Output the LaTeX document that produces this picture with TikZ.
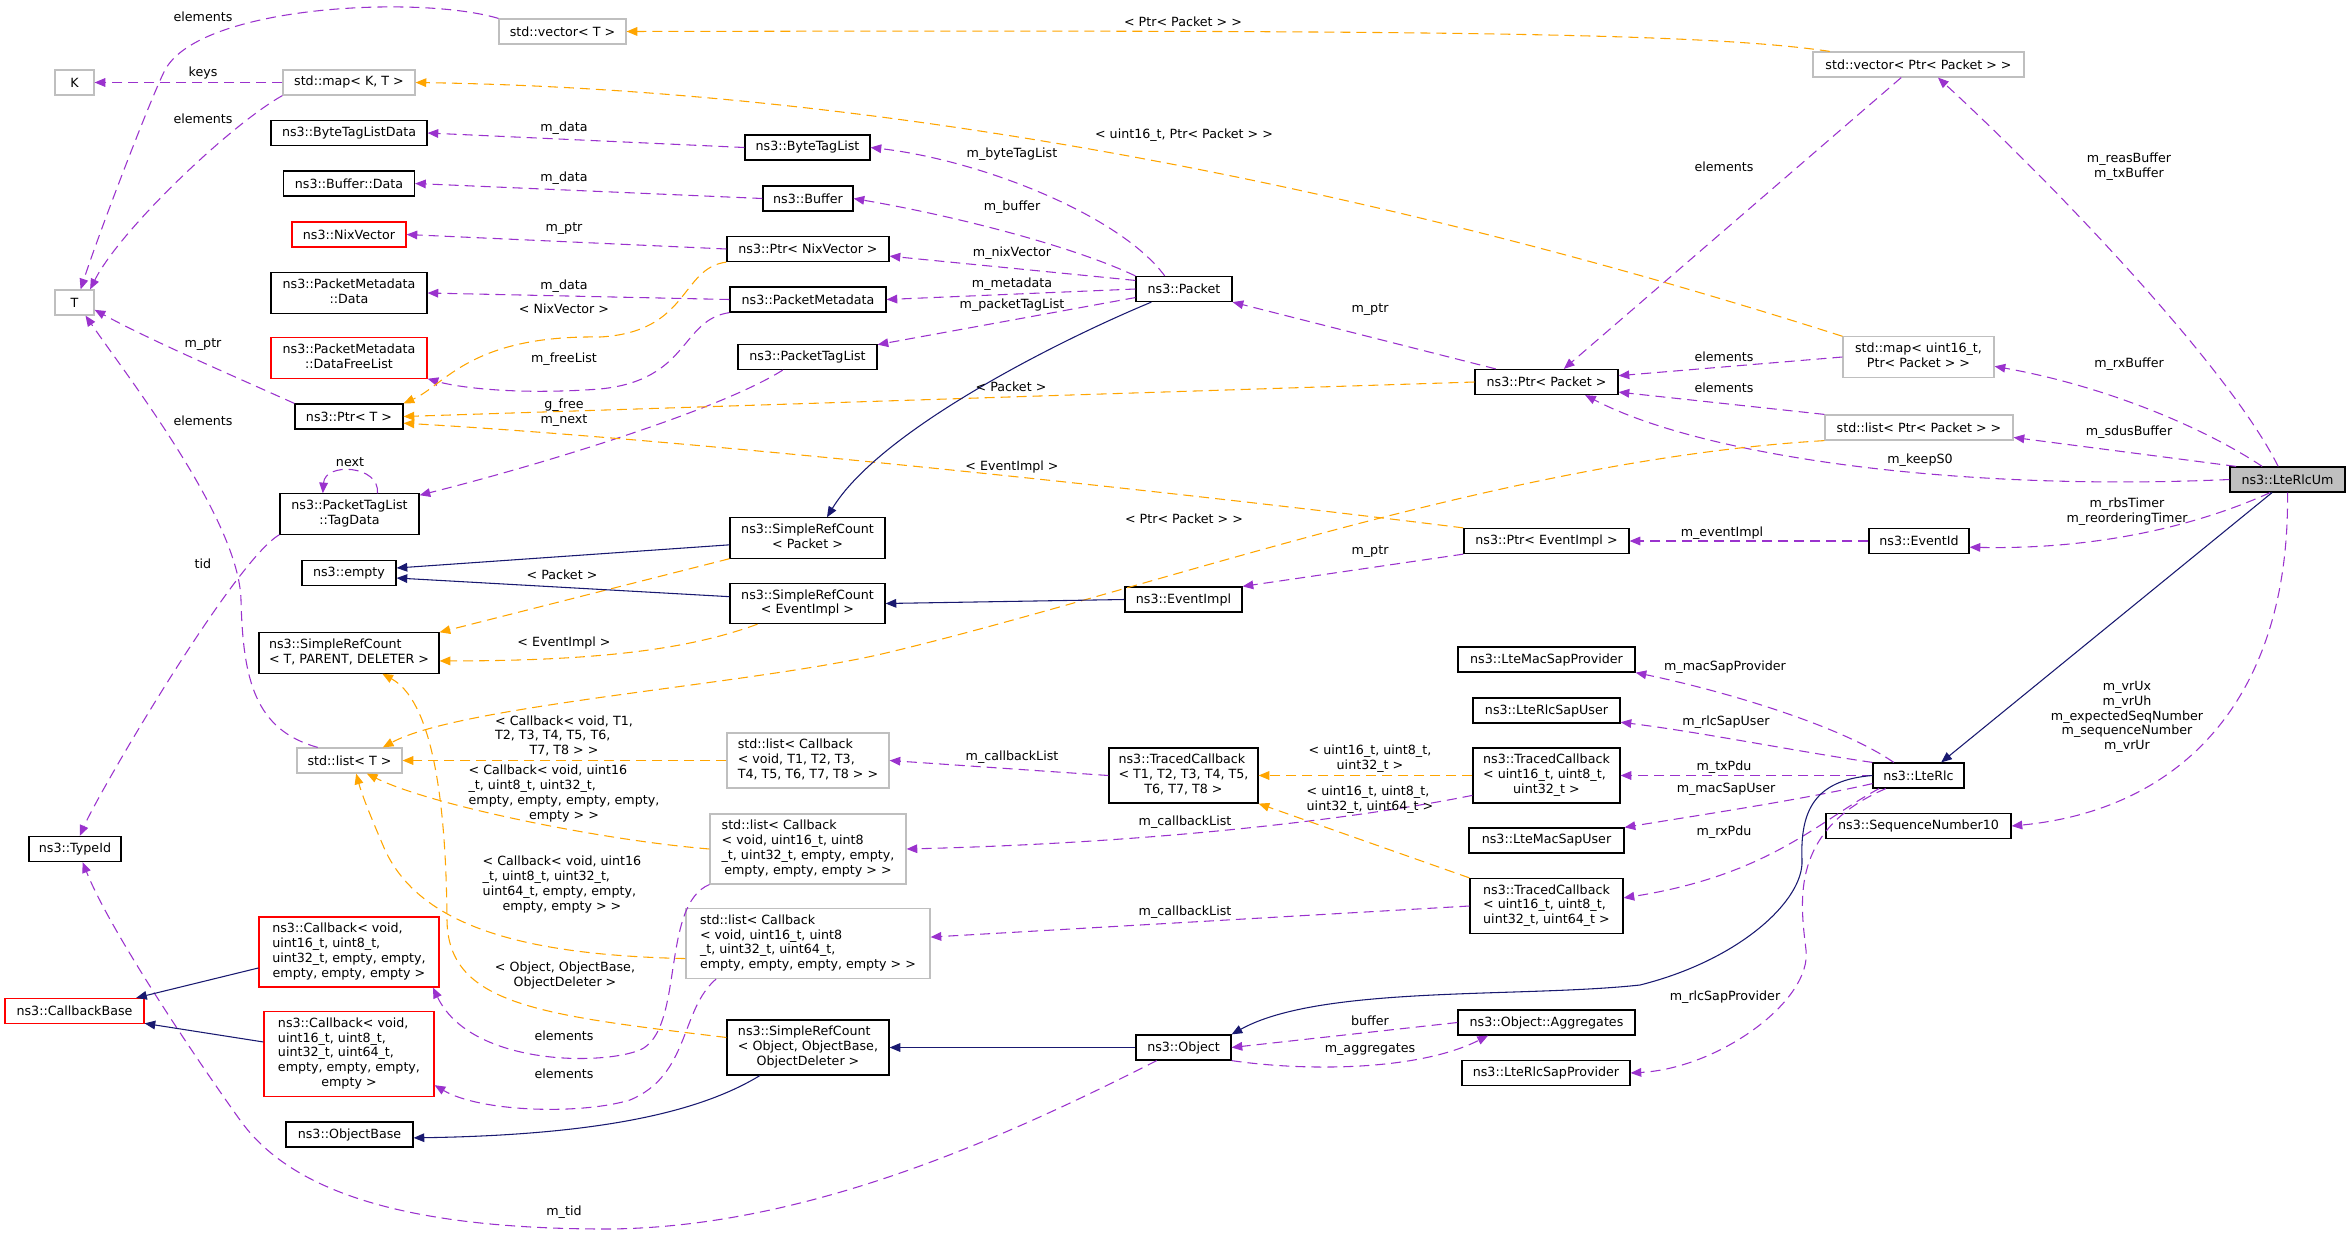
\documentclass[tikz,border=0pt]{standalone}
\usepackage{fontspec}
\setmainfont{DejaVu Sans}
\usetikzlibrary{arrows.meta}
\definecolor{usePurple}{HTML}{9A32CD}
\definecolor{tmplOrange}{HTML}{FFA500}
\definecolor{inhNavy}{HTML}{191970}
\definecolor{undocGray}{HTML}{BFBFBF}
\definecolor{truncRed}{HTML}{FF0000}
\newcommand{\dlab}[2]{\begin{tabular}{@{}l@{}}#1\\\multicolumn{1}{@{}c@{}}{#2}\end{tabular}}

\begin{document}
\begin{tikzpicture}[
    x=0.75pt, y=-0.75pt,
    cls/.style={rectangle, draw=black, line width=0.9pt, fill=white,
        minimum height=18.75pt, inner xsep=3pt, inner ysep=4pt,
        font=\fontsize{9.5}{11.1}\selectfont},
    undoc/.style={cls, draw=undocGray},
    trunc/.style={cls, draw=truncRed},
    bw/.style={minimum width=#1*0.75pt},
    lbl/.style={inner sep=0pt, align=center, font=\fontsize{9.5}{11.1}\selectfont},
    usage/.style={-{Triangle[length=8pt,width=6.5pt]}, usePurple, line width=0.8pt,
        dash pattern=on 7.5pt off 4.5pt},
    tmpl/.style={usage, tmplOrange},
    inherit/.style={-{Triangle[length=8pt,width=6.5pt]}, inhNavy, line width=0.8pt}
]
\useasboundingbox (0,0) rectangle (2349,1235);

% classes
\node[undoc, bw=39] (K) at (74.5,82.5) {K};
\node[undoc, bw=39] (T) at (74.5,302.5) {T};
\node[cls, bw=92] (typeid) at (75,849) {ns3::TypeId};
\node[trunc, bw=139] (cbbase) at (74.5,1011) {ns3::CallbackBase};

\node[undoc, bw=127] (vecT) at (562.5,31.5) {std::vector< T >};
\node[undoc, bw=132] (mapKT) at (349,82.5) {std::map< K, T >};
\node[cls, bw=156] (btld) at (349,133) {ns3::ByteTagListData};
\node[cls, bw=131] (bufdata) at (349,183.5) {ns3::Buffer::Data};
\node[trunc, bw=114] (nixvec) at (349,234.5) {ns3::NixVector};
\node[cls, bw=156] (pmdata) at (349,293) {\dlab{ns3::PacketMetadata}{::Data}};
\node[trunc, bw=156] (pmfree) at (349,358) {\dlab{ns3::PacketMetadata}{::DataFreeList}};
\node[cls, bw=108] (ptrT) at (349,416.5) {ns3::Ptr< T >};
\node[cls, bw=139] (tagdata) at (349.5,514) {\dlab{ns3::PacketTagList}{::TagData}};
\node[cls, bw=94] (empty) at (349,573) {ns3::empty};
\node[cls, bw=180] (srcT) at (349,653) {\dlab{ns3::SimpleRefCount}{< T, PARENT, DELETER >}};
\node[undoc, bw=105] (listT) at (349.5,760.5) {std::list< T >};
\node[trunc, bw=180] (cbu32) at (349,952) {\dlab{ns3::Callback< void,\\uint16\_t, uint8\_t,\\uint32\_t, empty, empty,}{empty, empty, empty >}};
\node[trunc, bw=170] (cbu64) at (349,1054) {\dlab{ns3::Callback< void,\\uint16\_t, uint8\_t,\\uint32\_t, uint64\_t,\\empty, empty, empty,}{empty >}};
\node[cls, bw=127] (objbase) at (349.5,1134.5) {ns3::ObjectBase};

\node[cls, bw=125] (btl) at (807.5,147.5) {ns3::ByteTagList};
\node[cls, bw=90] (buf) at (808,198.5) {ns3::Buffer};
\node[cls, bw=162] (ptrnix) at (808,249) {ns3::Ptr< NixVector >};
\node[cls, bw=156] (pm) at (808,299.5) {ns3::PacketMetadata};
\node[cls, bw=139] (ptl) at (807.5,357) {ns3::PacketTagList};
\node[cls, bw=155] (srcpkt) at (807.5,538) {\dlab{ns3::SimpleRefCount}{< Packet >}};
\node[cls, bw=155] (srcev) at (807.5,603.5) {\dlab{ns3::SimpleRefCount}{< EventImpl >}};
\node[undoc, bw=162] (listcbT) at (808,760.5) {\dlab{std::list< Callback\\< void, T1, T2, T3,}{T4, T5, T6, T7, T8 > >}};
\node[undoc, bw=196] (listcb32) at (808,849) {\dlab{std::list< Callback\\< void, uint16\_t, uint8\\\_t, uint32\_t, empty, empty,}{empty, empty, empty > >}};
\node[undoc, bw=244] (listcb64) at (808,943.5) {\dlab{std::list< Callback\\< void, uint16\_t, uint8\\\_t, uint32\_t, uint64\_t,}{empty, empty, empty, empty > >}};
\node[cls, bw=162] (srcobj) at (808,1047.5) {\dlab{ns3::SimpleRefCount\\< Object, ObjectBase,}{ObjectDeleter >}};

\node[cls, bw=96] (pkt) at (1184,289) {ns3::Packet};
\node[cls, bw=117] (evimpl) at (1183.5,599.5) {ns3::EventImpl};
\node[cls, bw=149] (tcT) at (1183.5,775.5) {\dlab{ns3::TracedCallback\\< T1, T2, T3, T4, T5,}{T6, T7, T8 >}};
\node[cls, bw=95] (obj) at (1183.5,1047.5) {ns3::Object};

\node[cls, bw=143] (ptrpkt) at (1546.5,382) {ns3::Ptr< Packet >};
\node[cls, bw=165] (ptrev) at (1546.5,541) {ns3::Ptr< EventImpl >};
\node[cls, bw=177] (macprov) at (1546.5,659.5) {ns3::LteMacSapProvider};
\node[cls, bw=147] (rlcuser) at (1546.5,710.5) {ns3::LteRlcSapUser};
\node[cls, bw=147] (tc32) at (1546.5,775.5) {\dlab{ns3::TracedCallback\\< uint16\_t, uint8\_t,}{uint32\_t >}};
\node[cls, bw=155] (macuser) at (1546.5,840.5) {ns3::LteMacSapUser};
\node[cls, bw=153] (tc64) at (1546.5,906) {\dlab{ns3::TracedCallback\\< uint16\_t, uint8\_t,}{uint32\_t, uint64\_t >}};
\node[cls, bw=177] (aggr) at (1546.5,1022.5) {ns3::Object::Aggregates};
\node[cls, bw=168] (rlcprov) at (1546,1073) {ns3::LteRlcSapProvider};

\node[undoc, bw=211] (vecpp) at (1918.5,64.5) {std::vector< Ptr< Packet > >};
\node[undoc, bw=151] (mappp) at (1918.5,357) {\dlab{std::map< uint16\_t,}{Ptr< Packet > >}};
\node[undoc, bw=188] (listpp) at (1919,427.5) {std::list< Ptr< Packet > >};
\node[cls, bw=100] (evid) at (1919,541) {ns3::EventId};
\node[cls, bw=91] (lterlc) at (1918.5,775.5) {ns3::LteRlc};
\node[cls, bw=185] (seqnum) at (1918.5,826) {ns3::SequenceNumber10};
\node[cls, bw=115, fill=undocGray] (lterlcum) at (2287.5,479.5) {ns3::LteRlcUm};

% usage relations
\draw[usage] (vecT.north west) .. controls (420,-5) and (200,5) .. (165,70) .. controls (152,95) and (100,230) .. (T.65);
\draw[usage] (mapKT.west) -- (K.east);
\draw[usage] (mapKT.south west) .. controls (230,125) and (120,230) .. (T.40);
\draw[usage] (btl.west) -- (btld.east);
\draw[usage] (buf.west) -- (bufdata.east);
\draw[usage] (ptrnix.west) -- (nixvec.east);
\draw[usage] (pm.west) -- (pmdata.east);
\draw[usage] (pm.south west) .. controls (680,320) and (690,380) .. (600,389) .. controls (520,395) and (460,388) .. (pmfree.south east);
\draw[usage] (ptrT.north west) .. controls (220,370) and (150,340) .. (T.-20);
\draw[usage] ([xshift=16pt]listT.north west) .. controls (255,730) and (243,680) .. (241,600) .. controls (239,520) and (130,380) .. (T.-50);
\draw[usage] ([xshift=34pt]ptl.south west) .. controls (720,410) and (540,465) .. (tagdata.15);
\draw[usage] ([xshift=21pt]tagdata.north) .. controls (380,465) and (325,462) .. ([xshift=-20pt]tagdata.north);
\draw[usage] (tagdata.south west) .. controls (235,560) and (100,790) .. (typeid.70);
\draw[usage] ([xshift=16pt]obj.south west) .. controls (1000,1140) and (800,1230) .. (600,1229) .. controls (400,1228) and (290,1190) .. (240,1120) .. controls (190,1050) and (110,930) .. (typeid.-60);
\draw[usage] (listcb32.south west) .. controls (660,905) and (685,1030) .. (640,1050) .. controls (600,1066) and (470,1065) .. ([xshift=-5pt]cbu32.south east);
\draw[usage] ([xshift=23pt]listcb64.south west) .. controls (680,1010) and (690,1075) .. (630,1100) .. controls (580,1115) and (480,1112) .. (cbu64.-20);
\draw[usage] (obj.south east) .. controls (1310,1072) and (1420,1070) .. ([xshift=23pt]aggr.south west);
\draw[usage] (aggr.west) -- (obj.east);
\draw[usage] (tcT.west) -- (listcbT.east);
\draw[usage] (tc32.-165) .. controls (1350,820) and (1150,843) .. (listcb32.east);
\draw[usage] (tc64.west) -- (listcb64.3);
\draw[usage] ([xshift=22pt]pkt.north west) .. controls (1120,215) and (980,160) .. (btl.east);
\draw[usage] (pkt.north west) .. controls (1070,245) and (950,215) .. (buf.east);
\draw[usage] (pkt.170) -- (ptrnix.-5);
\draw[usage] (pkt.west) -- (pm.east);
\draw[usage] (pkt.-170) -- (ptl.10);
\draw[usage] ([xshift=16pt]ptrpkt.north west) -- (pkt.south east);
\draw[usage] ([xshift=-13pt]vecpp.south) -- ([xshift=13pt]ptrpkt.north);
\draw[usage] (mappp.west) -- (ptrpkt.5);
\draw[usage] (listpp.north west) -- (ptrpkt.-8);
\draw[usage] ([xshift=-7pt]lterlcum.north) .. controls (2230,370) and (2060,190) .. ([xshift=14.6pt]vecpp.south);
\draw[usage] ([xshift=-19pt]lterlcum.north) .. controls (2200,425) and (2100,385) .. (mappp.-7);
\draw[usage] ([xshift=5pt]lterlcum.north west) -- (listpp.-6);
\draw[usage] (lterlcum.west) .. controls (1950,492) and (1700,455) .. ([xshift=29pt]ptrpkt.south);
\draw[usage] ([xshift=-13pt]lterlcum.south) .. controls (2210,520) and (2110,550) .. (evid.-7);
\draw[usage] (lterlcum.south) .. controls (2290,700) and (2180,810) .. (seqnum.east);
\draw[usage] (evid.west) -- (ptrev.east);
\draw[usage] (ptrev.south west) -- (evimpl.north east);
\draw[usage] ([xshift=16pt]lterlc.north west) .. controls (1840,725) and (1720,690) .. (macprov.south east);
\draw[usage] (lterlc.north west) .. controls (1800,752) and (1700,732) .. (rlcuser.-9);
\draw[usage] (lterlc.west) -- (tc32.east);
\draw[usage] (lterlc.-170) .. controls (1800,800) and (1700,815) .. (macuser.north east);
\draw[usage] ([xshift=5pt]lterlc.south west) .. controls (1820,820) and (1770,875) .. (tc64.6);
\draw[usage] ([xshift=10pt]lterlc.south west) .. controls (1790,830) and (1800,900) .. (1806,950) .. controls (1812,1000) and (1720,1068) .. (rlcprov.east);

% template instances
\draw[tmpl] ([xshift=13pt]vecpp.north west) .. controls (1700,32) and (1400,30) .. (vecT.east);
\draw[tmpl] (mappp.north west) .. controls (1400,195) and (900,90) .. (mapKT.east);
\draw[tmpl] (ptrnix.south west) .. controls (680,268) and (690,332) .. (600,337) .. controls (470,335) and (445,385) .. (ptrT.north east);
\draw[tmpl] (ptrpkt.west) -- (ptrT.east);
\draw[tmpl] (ptrev.north west) .. controls (1200,495) and (700,440) .. (ptrT.-7);
\draw[tmpl] (srcpkt.south west) -- (srcT.north east);
\draw[tmpl] ([xshift=21pt]srcev.south west) .. controls (700,645) and (620,661) .. (srcT.-5);
\draw[tmpl] (srcobj.173) .. controls (540,1015) and (448,1005) .. (447,920) .. controls (446,790) and (430,700) .. ([xshift=25pt]srcT.south);
\draw[tmpl] (listpp.south west) .. controls (1500,460) and (1150,590) .. (886,653) .. controls (756,684) and (460,705) .. ([xshift=25pt]listT.north);
\draw[tmpl] (listcbT.west) -- (listT.east);
\draw[tmpl] (listcb32.west) .. controls (600,840) and (430,805) .. ([xshift=13pt]listT.south);
\draw[tmpl] (listcb64.-173) .. controls (520,955) and (420,925) .. (385,850) .. controls (370,815) and (362,795) .. ([xshift=5pt]listT.south);
\draw[tmpl] (tc32.west) -- (tcT.east);
\draw[tmpl] (tc64.north west) -- (tcT.south east);

% inheritance
\draw[inherit] ([xshift=12pt]pkt.south west) .. controls (1060,340) and (880,430) .. ([xshift=14.6pt]srcpkt.north);
\draw[inherit] (srcpkt.-175) -- (empty.6);
\draw[inherit] (srcev.175) -- (empty.-6);
\draw[inherit] (evimpl.west) -- (srcev.east);
\draw[inherit] (cbu32.-170) -- (cbbase.12);
\draw[inherit] (cbu64.172) -- (cbbase.-10);
\draw[inherit] ([xshift=25pt]srcobj.south west) .. controls (700,1112) and (600,1135) .. (objbase.-3);
\draw[inherit] (obj.west) -- (srcobj.east);
\draw[inherit] (lterlc.west) .. controls (1815,780) and (1800,810) .. (1802,860) .. controls (1804,900) and (1740,960) .. (1640,985) .. controls (1520,998) and (1320,985) .. (obj.north east);
\draw[inherit] ([xshift=-11.6pt]lterlcum.south) -- ([xshift=17pt]lterlc.north);

% edge labels
\node[lbl] (lElemVecT) at (203,17) {elements};
\node[lbl] (lKeys) at (203,73) {keys};
\node[lbl] (lElemMapT) at (203,119) {elements};
\node[lbl] (lPtrT) at (203,345) {m\_ptr};
\node[lbl] (lElemListT) at (203,421) {elements};
\node[lbl] (lTid) at (203,564) {tid};
\node[lbl] (lNext) at (350,462) {next};
\node[lbl] (lDataBtl) at (564,128) {m\_data};
\node[lbl] (lDataBuf) at (564,178) {m\_data};
\node[lbl] (lPtrNix) at (564,229) {m\_ptr};
\node[lbl] (lDataPm) at (564,286) {m\_data};
\node[lbl] (lTNix) at (564,309) {< NixVector >};
\node[lbl] (lFreeList) at (564,359) {m\_freeList};
\node[lbl] (lNextFree) at (564,413) {g\_free\\m\_next};
\node[lbl] (lTSrcPkt) at (562,575) {< Packet >};
\node[lbl] (lTSrcEv) at (564,643) {< EventImpl >};
\node[lbl] (lTCbT) at (564,737) {\dlab{< Callback< void, T1,\\T2, T3, T4, T5, T6,}{T7, T8 > >}};
\node[lbl] (lTCb32) at (564,794) {\dlab{< Callback< void, uint16\\\_t, uint8\_t, uint32\_t,\\empty, empty, empty, empty,}{empty > >}};
\node[lbl] (lTCb64) at (562,885) {\dlab{< Callback< void, uint16\\\_t, uint8\_t, uint32\_t,\\uint64\_t, empty, empty,}{empty, empty > >}};
\node[lbl] (lTSrcObj) at (565,976) {\dlab{< Object, ObjectBase,}{ObjectDeleter >}};
\node[lbl] (lElemCb32) at (564,1036) {elements};
\node[lbl] (lElemCb64) at (564,1074) {elements};
\node[lbl] (lTid2) at (564,1212) {m\_tid};
\node[lbl] (lByteTag) at (1012,154) {m\_byteTagList};
\node[lbl] (lBuffer) at (1012,207) {m\_buffer};
\node[lbl] (lNixVec) at (1012,253) {m\_nixVector};
\node[lbl] (lMeta) at (1012,284) {m\_metadata};
\node[lbl] (lPktTag) at (1012,305) {m\_packetTagList};
\node[lbl] (lTPtrPkt) at (1011,387) {< Packet >};
\node[lbl] (lTPtrEv) at (1012,467) {< EventImpl >};
\node[lbl] (lCbListT) at (1012,757) {m\_callbackList};
\node[lbl] (lTVecPP) at (1183,22) {< Ptr< Packet > >};
\node[lbl] (lTMapPP) at (1184,135) {< uint16\_t, Ptr< Packet > >};
\node[lbl] (lTListPP) at (1184,519) {< Ptr< Packet > >};
\node[lbl] (lCbList32) at (1185,822) {m\_callbackList};
\node[lbl] (lCbList64) at (1185,912) {m\_callbackList};
\node[lbl] (lPtrPkt) at (1370,310) {m\_ptr};
\node[lbl] (lPtrEv) at (1370,552) {m\_ptr};
\node[lbl] (lTTc32) at (1370,759) {\dlab{< uint16\_t, uint8\_t,}{uint32\_t >}};
\node[lbl] (lTTc64) at (1370,800) {\dlab{< uint16\_t, uint8\_t,}{uint32\_t, uint64\_t >}};
\node[lbl] (lBuf) at (1370,1021) {buffer};
\node[lbl] (lAggr) at (1370,1050) {m\_aggregates};
\node[lbl] (lElemVecPP) at (1724,167) {elements};
\node[lbl] (lElemMapPP) at (1724,357) {elements};
\node[lbl] (lElemListPP) at (1724,388) {elements};
\node[lbl] (lEvImpl) at (1722,533) {m\_eventImpl};
\node[lbl] (lMacProv) at (1725,667) {m\_macSapProvider};
\node[lbl] (lRlcUser) at (1726,722) {m\_rlcSapUser};
\node[lbl] (lTxPdu) at (1724,767) {m\_txPdu};
\node[lbl] (lMacUser) at (1726,789) {m\_macSapUser};
\node[lbl] (lRxPdu) at (1724,832) {m\_rxPdu};
\node[lbl] (lRlcProv) at (1725,997) {m\_rlcSapProvider};
\node[lbl] (lReasBuf) at (2129,167) {m\_reasBuffer\\m\_txBuffer};
\node[lbl] (lRxBuf) at (2129,364) {m\_rxBuffer};
\node[lbl] (lSdus) at (2129,432) {m\_sdusBuffer};
\node[lbl] (lKeep) at (1920,460) {m\_keepS0};
\node[lbl] (lTimers) at (2127,512) {m\_rbsTimer\\m\_reorderingTimer};
\node[lbl] (lSeq) at (2127,717) {m\_vrUx\\m\_vrUh\\m\_expectedSeqNumber\\m\_sequenceNumber\\m\_vrUr};
\end{tikzpicture}
\end{document}
